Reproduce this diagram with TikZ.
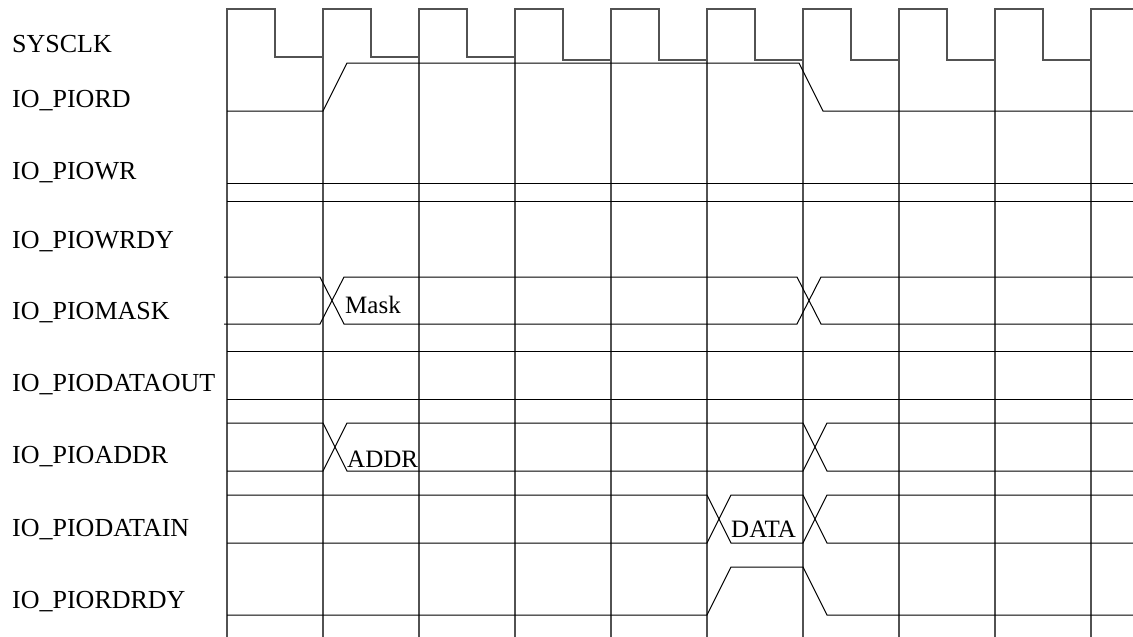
\documentclass[tikz,border=0pt]{standalone}
\usepackage{fontspec}
\setmainfont{Liberation Serif}
\usepackage{tikz}

\tikzset{
  gridline/.style={line width=1.5pt, draw=black!68},
  wave/.style={line width=1pt, draw=black},
  signame/.style={anchor=base west, inner sep=0pt, font=\fontsize{26}{30}\selectfont},
  buslabel/.style={anchor=base west, inner sep=0pt, font=\fontsize{25}{30}\selectfont}
}

\begin{document}
\begin{tikzpicture}[x=1pt,y=-1pt]
\useasboundingbox (0,0) rectangle (1133,637);
% clock, its rising edges run down as grid lines
\foreach \k/\lo in {0/57,1/57,2/57,3/60,4/60,5/60,6/60,7/60,8/60} {
  \pgfmathsetmacro\xa{227+96*\k}
  \draw[gridline] (\xa,637) -- (\xa,9) -- (\xa+48,9) -- (\xa+48,\lo) -- (\xa+96,\lo);
}
\draw[gridline] (1091,637) -- (1091,9) -- (1133,9);
% signal names
\node[signame] (sysclk) at (12,52) {SYSCLK};
\node[signame] (piord) at (12,107) {IO\_PIORD};
\node[signame] (piowr) at (12,179) {IO\_PIOWR};
\node[signame] (piowrdy) at (12,248) {IO\_PIOWRDY};
\node[signame] (piomask) at (12,319) {IO\_PIOMASK};
\node[signame] (piodataout) at (12,391) {IO\_PIODATAOUT};
\node[signame] (pioaddr) at (12,463) {IO\_PIOADDR};
\node[signame] (piodatain) at (12,536) {IO\_PIODATAIN};
\node[signame] (piordrdy) at (12,608) {IO\_PIORDRDY};
% IO_PIORD
\draw[wave] (227,111) -- (323,111) -- (347,63) -- (799,63) -- (823,111) -- (1133,111);
% IO_PIOWR
\draw[wave] (227,183) -- (1133,183);
\draw[wave] (227,201) -- (1133,201);
% IO_PIOMASK
\draw[wave] (224,277) -- (320,277) -- (344,324) -- (797,324) -- (821,277) -- (1133,277);
\draw[wave] (224,324) -- (320,324) -- (344,277) -- (797,277) -- (821,324) -- (1133,324);
\node[buslabel] (mask) at (345,313) {Mask};
% IO_PIODATAOUT
\draw[wave] (227,351) -- (1133,351);
\draw[wave] (227,399) -- (1133,399);
% IO_PIOADDR
\draw[wave] (227,423) -- (323,423) -- (347,471) -- (803,471) -- (827,423) -- (1133,423);
\draw[wave] (227,471) -- (323,471) -- (347,423) -- (803,423) -- (827,471) -- (1133,471);
\node[buslabel] (addr) at (347,467) {ADDR};
% IO_PIODATAIN
\draw[wave] (227,495) -- (707,495) -- (731,543) -- (803,543) -- (827,495) -- (1133,495);
\draw[wave] (227,543) -- (707,543) -- (731,495) -- (803,495) -- (827,543) -- (1133,543);
\node[buslabel] (data) at (731,537) {DATA};
% IO_PIORDRDY
\draw[wave] (227,615) -- (707,615) -- (731,567) -- (803,567) -- (827,615) -- (1133,615);
\end{tikzpicture}
\end{document}
